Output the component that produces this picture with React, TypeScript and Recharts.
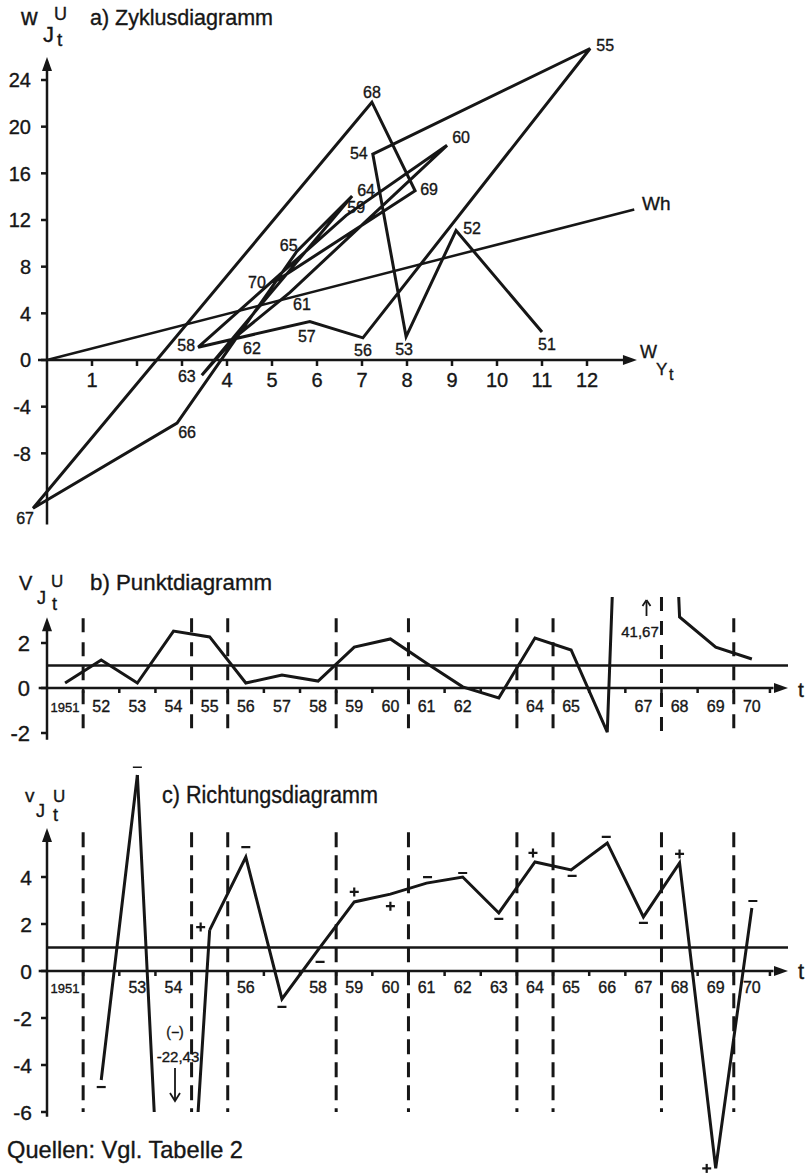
import React from 'react';
import { ComposedChart, Line, XAxis, YAxis, ReferenceLine, ReferenceDot } from 'recharts';

const FONT = "'Liberation Sans', 'DejaVu Sans', Arial, sans-serif";
const INK = '#161616';

// ---------- a) Zyklusdiagramm ----------
const A_YEARS = ['51', '52', '53', '54', '55', '56', '57', '58', '59', '60', '61', '62', '63', '64', '65', '66', '67', '68', '69', '70'];
const A_X = [11.0, 9.09, 7.98, 7.24, 12.07, 7.02, 5.84, 3.36, 6.65, 8.89, 5.4, 4.2, 3.44, 6.78, 5.55, 2.89, -0.31, 7.22, 8.18, 5.02];
const A_Y = [2.4, 11.1, 2.0, 17.65, 26.7, 1.9, 3.3, 1.1, 12.4, 18.4, 5.8, 2.0, -1.3, 14.05, 9.3, -5.4, -12.7, 22.1, 14.5, 6.6];
const WH_X = [0, 13.05];
const WH_Y = [0, 12.9];
const A_X_TICKS = [1, 2, 3, 4, 5, 6, 7, 8, 9, 10, 11, 12];
const A_X_TICK_LABELS = ['1', '', '', '4', '5', '6', '7', '8', '9', '10', '11', '12'];
const A_Y_TICKS = [24, 20, 16, 12, 8, 4, 0, -4, -8];

// ---------- b) / c) ----------
const YEARS = [1951, 1952, 1953, 1954, 1955, 1956, 1957, 1958, 1959, 1960, 1961, 1962, 1963, 1964, 1965, 1966, 1967, 1968, 1969, 1970];
const B_VALUES = [0.22, 1.24, 0.22, 2.53, 2.27, 0.22, 0.58, 0.31, 1.82, 2.18, 1.1, 0.05, -0.44, 2.22, 1.69, -1.96, 41.67, 3.16, 1.82, 1.29];
const B_X_LABELS = ['1951', '52', '53', '54', '55', '56', '57', '58', '59', '60', '61', '62', '', '64', '65', '', '67', '68', '69', '70'];
const B_Y_TICKS = [2, 0, -2];

const C_VALUES: (number | null)[] = [null, -4.64, 8.34, -22.43, 1.74, 4.85, -1.19, 0.9, 2.94, 3.27, 3.74, 4.0, 2.47, 4.64, 4.3, 5.45, 2.3, 4.6, -8.4, 2.68];
const C_SIGNS = ['', '−', '−', '', '+', '−', '−', '−', '+', '+', '−', '−', '−', '+', '−', '−', '−', '+', '+', '−'];
const C_X_LABELS = ['1951', '', '53', '54', '', '56', '', '58', '59', '60', '61', '62', '63', '64', '65', '66', '67', '68', '69', '70'];
const C_Y_TICKS = [4, 2, 0, -2, -4, -6];
const C_SCALE_FLOOR = -6;

const PHASE_BOUNDARIES = [1951.5, 1954.5, 1955.5, 1958.5, 1960.5, 1963.5, 1964.5, 1967.5, 1969.5];
const NORM_LEVEL = 1;

// ---------- styling maps (pixel offsets of labels) ----------
const A_LABEL_OFFSET: Record<string, [number, number]> = {
  '51': [5, 12], '52': [16, -3], '53': [-2, 12], '54': [-14, -1], '55': [15, -4],
  '56': [0, 12], '57': [-3, 14], '58': [-12, -2], '59': [10, -8], '60': [14, -8],
  '61': [12, 12], '62': [16, 11], '63': [-15, 1], '64': [14, -6], '65': [-8, -7],
  '66': [10, 9], '67': [-8, 10], '68': [0, -10], '69': [14, -2], '70': [-16, -1],
};
const C_SIGN_OFFSET: [number, number][] = [
  [0, 0], [0, 7], [0, -8], [0, 0], [-9, -3], [0, -10], [0, 8], [2, 12], [0, -10], [0, 12],
  [1, -6], [0, -4], [0, 6], [-2, -9], [1, 6], [-1, -6], [0, 6], [0, -9], [-9, 0], [1, -7],
];

// ---------- data tables ----------
const aData = A_YEARS.map((yr, i) => ({ yr, x: A_X[i], y: A_Y[i] }));
const whData = WH_X.map((x, i) => ({ x, y: WH_Y[i] }));
const bData = YEARS.map((year, i) => ({ year, v: B_VALUES[i] }));
const cMain = YEARS.map((year, i) => {
  const v = C_VALUES[i];
  return { year, v: v !== null && v < C_SCALE_FLOOR - 3 ? null : v };
});
const cCut = YEARS.map((year, i) => {
  const near = [i - 1, i, i + 1].some((j) => {
    const v = C_VALUES[j];
    return v !== null && v !== undefined && v < C_SCALE_FLOOR - 3;
  });
  return { year, v: near ? C_VALUES[i] : null };
});

// ---------- geometry helpers ----------
function vMargins(chartTop: number, chartH: number, zeroPx: number, ppu: number, lo: number, hi: number) {
  const top = zeroPx - hi * ppu - chartTop;
  const bottom = chartTop + chartH - (zeroPx - lo * ppu);
  return { top, bottom };
}

const txtProps = { fontFamily: FONT, fill: INK, stroke: INK, strokeWidth: 0.35 };

const arrowUp = (p: any) => (
  <path d={`M${p.cx},${p.cy} L${p.cx - 5},${p.cy + 14} L${p.cx + 5},${p.cy + 14} Z`} fill={INK} />
);
const arrowRight = (p: any) => (
  <path d={`M${p.cx},${p.cy} L${p.cx - 14},${p.cy - 5} L${p.cx - 14},${p.cy + 5} Z`} fill={INK} />
);
const yTick = (label: string, fs: number, gap: number) => (p: any) => (
  <g>
    <line x1={p.cx - 6} y1={p.cy} x2={p.cx} y2={p.cy} stroke={INK} strokeWidth={2.5} />
    <text x={p.cx - gap} y={p.cy + fs * 0.36} textAnchor="end" fontSize={fs} {...txtProps}>{label}</text>
  </g>
);
const xTick = (label: string, fs: number, down: number, markLen: number) => (p: any) => (
  <g>
    <line x1={p.cx} y1={p.cy} x2={p.cx} y2={p.cy + markLen} stroke={INK} strokeWidth={2.5} />
    {label ? (
      <text x={p.cx} y={p.cy + down} textAnchor="middle" fontSize={fs} {...txtProps}>{label}</text>
    ) : null}
  </g>
);
const minorTick = (p: any) => (
  <line x1={p.cx} y1={p.cy} x2={p.cx} y2={p.cy + 5} stroke={INK} strokeWidth={2.5} />
);
const xLabel = (label: string, fs: number, down: number) => (p: any) => (
  <text x={p.cx} y={p.cy + down} textAnchor="middle" fontSize={fs} {...txtProps}>{label}</text>
);

// ---------- panel a ----------
const A_TOP = 0, A_H = 560;
const A_M = vMargins(A_TOP, A_H, 360, 280 / 24, -14.5, 27.5);

function PanelA() {
  const labelDot = (p: any) => {
    const yr = p.payload?.yr;
    if (p.cx == null || p.cy == null || !yr) return <g key={`a-${p.index}`} />;
    const [dx, dy] = A_LABEL_OFFSET[yr] || [0, -10];
    return (
      <text key={`a-${p.index}`} x={p.cx + dx} y={p.cy + dy + 6} textAnchor="middle" fontSize={16} {...txtProps}>{yr}</text>
    );
  };
  return (
    <ComposedChart width={810} height={A_H} margin={{ top: A_M.top, bottom: A_M.bottom, left: 20, right: 160 }}>
      <XAxis type="number" dataKey="x" domain={[-0.6, 13.4]} hide />
      <YAxis type="number" dataKey="y" domain={[-14.5, 27.5]} hide />
      <ReferenceLine segment={[{ x: 0, y: -14.1 }, { x: 0, y: 25 }]} stroke={INK} strokeWidth={2.5} ifOverflow="visible" />
      <ReferenceLine segment={[{ x: -0.2, y: 0 }, { x: 12.9, y: 0 }]} stroke={INK} strokeWidth={2.5} ifOverflow="visible" />
      <ReferenceDot x={0} y={25.97} shape={arrowUp} ifOverflow="visible" />
      <ReferenceDot x={13.11} y={0} shape={arrowRight} ifOverflow="visible" />
      {A_Y_TICKS.map((t) => (
        <ReferenceDot key={`ay${t}`} x={0} y={t} shape={yTick(String(t), 20, 16)} ifOverflow="visible" />
      ))}
      {A_X_TICKS.map((t, i) => (
        <ReferenceDot key={`ax${t}`} x={t} y={0} shape={xTick(A_X_TICK_LABELS[i], 20, 27, 6)} ifOverflow="visible" />
      ))}
      <Line data={whData} dataKey="y" type="linear" stroke={INK} strokeWidth={2.5} dot={false} activeDot={false} isAnimationActive={false} />
      <Line data={aData} dataKey="y" type="linear" stroke={INK} strokeWidth={3} dot={labelDot} activeDot={false} isAnimationActive={false} />
    </ComposedChart>
  );
}

// ---------- panel b ----------
const B_TOP = 560, B_H = 200;
const B_LO = -2.6, B_HI = 4.05;
const B_M = vMargins(B_TOP, B_H, 688, 22.5, B_LO, B_HI);

function PanelB() {
  const offYears = YEARS.filter((_, i) => B_VALUES[i] > B_HI);
  return (
    <ComposedChart width={810} height={B_H} data={bData} margin={{ top: B_M.top, bottom: B_M.bottom, left: 47, right: 22 }}>
      <XAxis type="number" dataKey="year" domain={[1950.5, 1971]} hide allowDataOverflow />
      <YAxis type="number" domain={[B_LO, B_HI]} hide allowDataOverflow />
      {PHASE_BOUNDARIES.map((b) => {
        const top = offYears.some((y) => Math.abs(y - b) <= 0.5) ? B_HI : 3.1;
        return (
          <ReferenceLine key={`bd${b}`} segment={[{ x: b, y: top }, { x: b, y: -2.1 }]} stroke={INK} strokeWidth={3} strokeDasharray="14 10" ifOverflow="visible" />
        );
      })}
      <ReferenceLine y={NORM_LEVEL} stroke={INK} strokeWidth={2.5} ifOverflow="visible" />
      <ReferenceLine segment={[{ x: 1950.5, y: -2.3 }, { x: 1950.5, y: 2.6 }]} stroke={INK} strokeWidth={2.5} ifOverflow="visible" />
      <ReferenceLine segment={[{ x: 1950.27, y: 0 }, { x: 1970.6, y: 0 }]} stroke={INK} strokeWidth={2.5} ifOverflow="visible" />
      <ReferenceDot x={1950.5} y={3.15} shape={arrowUp} ifOverflow="visible" />
      <ReferenceDot x={1971.0} y={0} shape={arrowRight} ifOverflow="visible" />
      {B_Y_TICKS.map((t) => (
        <ReferenceDot key={`by${t}`} x={1950.5} y={t} shape={yTick(String(t), 22, 17)} ifOverflow="visible" />
      ))}
      {YEARS.map((yr) => (
        <ReferenceDot key={`bm${yr}`} x={yr + 0.5} y={0} shape={minorTick} ifOverflow="visible" />
      ))}
      {YEARS.map((yr, i) => (
        <ReferenceDot key={`bl${yr}`} x={yr} y={0} shape={xLabel(B_X_LABELS[i], i === 0 ? 13 : 16, 24)} ifOverflow="visible" />
      ))}
      <Line dataKey="v" type="linear" stroke={INK} strokeWidth={3} dot={false} activeDot={false} isAnimationActive={false} />
    </ComposedChart>
  );
}

// ---------- panel c ----------
const C_TOP = 760, C_H = 415;
const C_LO = -8.6, C_HI = 8.7;
const C_M = vMargins(C_TOP, C_H, 971, 23.5, C_LO, C_HI);
const C2_M = vMargins(C_TOP, C_H, 971, 23.5, C_SCALE_FLOOR, C_HI);

function PanelC() {
  const signDot = (p: any) => {
    const s = C_SIGNS[p.index];
    if (p.cx == null || p.cy == null || !s) return <g key={`c-${p.index}`} />;
    const [dx, dy] = C_SIGN_OFFSET[p.index];
    const x = p.cx + dx, y = p.cy + dy;
    return (
      <g key={`c-${p.index}`}>
        <line x1={x - 4.5} y1={y} x2={x + 4.5} y2={y} stroke={INK} strokeWidth={2.2} />
        {s === '+' ? <line x1={x} y1={y - 4.5} x2={x} y2={y + 4.5} stroke={INK} strokeWidth={2.2} /> : null}
      </g>
    );
  };
  return (
    <ComposedChart width={810} height={C_H} data={cMain} margin={{ top: C_M.top, bottom: C_M.bottom, left: 47, right: 22 }}>
      <XAxis type="number" dataKey="year" domain={[1950.5, 1971]} hide allowDataOverflow />
      <YAxis type="number" domain={[C_LO, C_HI]} hide allowDataOverflow />
      {PHASE_BOUNDARIES.map((b) => (
        <ReferenceLine key={`cd${b}`} segment={[{ x: b, y: 5.9 }, { x: b, y: C_SCALE_FLOOR }]} stroke={INK} strokeWidth={3} strokeDasharray="15 8" ifOverflow="visible" />
      ))}
      <ReferenceLine y={NORM_LEVEL} stroke={INK} strokeWidth={2.5} ifOverflow="visible" />
      <ReferenceLine segment={[{ x: 1950.5, y: -6.2 }, { x: 1950.5, y: 5.6 }]} stroke={INK} strokeWidth={2.5} ifOverflow="visible" />
      <ReferenceLine segment={[{ x: 1950.27, y: 0 }, { x: 1970.6, y: 0 }]} stroke={INK} strokeWidth={2.5} ifOverflow="visible" />
      <ReferenceDot x={1950.5} y={6.09} shape={arrowUp} ifOverflow="visible" />
      <ReferenceDot x={1971.0} y={0} shape={arrowRight} ifOverflow="visible" />
      {C_Y_TICKS.map((t) => (
        <ReferenceDot key={`cy${t}`} x={1950.5} y={t} shape={yTick(String(t), 21, 15)} ifOverflow="visible" />
      ))}
      {YEARS.map((yr) => (
        <ReferenceDot key={`cm${yr}`} x={yr + 0.5} y={0} shape={minorTick} ifOverflow="visible" />
      ))}
      {YEARS.map((yr, i) => (
        <ReferenceDot key={`cl${yr}`} x={yr} y={0} shape={xLabel(C_X_LABELS[i], i === 0 ? 13 : 16, 22)} ifOverflow="visible" />
      ))}
      <Line dataKey="v" type="linear" stroke={INK} strokeWidth={3} dot={signDot} activeDot={false} isAnimationActive={false} />
    </ComposedChart>
  );
}

function PanelCCut() {
  return (
    <ComposedChart width={810} height={C_H} data={cCut} margin={{ top: C2_M.top, bottom: C2_M.bottom, left: 47, right: 22 }}>
      <XAxis type="number" dataKey="year" domain={[1950.5, 1971]} hide allowDataOverflow />
      <YAxis type="number" domain={[C_SCALE_FLOOR, C_HI]} hide allowDataOverflow />
      <Line dataKey="v" type="linear" stroke={INK} strokeWidth={3} dot={false} activeDot={false} isAnimationActive={false} />
    </ComposedChart>
  );
}

function Texts() {
  const t = txtProps;
  return (
    <svg width={810} height={1175} style={{ position: 'absolute', left: 0, top: 0, pointerEvents: 'none' }}>
      {/* panel a */}
      <text x={21} y={25} fontSize={23} {...t}>w</text>
      <text x={43} y={42} fontSize={22} {...t}>J</text>
      <text x={54} y={20} fontSize={18} {...t}>U</text>
      <text x={57} y={46} fontSize={19} {...t}>t</text>
      <text x={90} y={25} fontSize={22} textLength={183} lengthAdjust="spacingAndGlyphs" {...t}>a) Zyklusdiagramm</text>
      <text x={642} y={210} fontSize={19} {...t}>Wh</text>
      <text x={640} y={358} fontSize={18} {...t}>W</text>
      <text x={656} y={375} fontSize={17} {...t}>Y</text>
      <text x={669} y={380} fontSize={16} {...t}>t</text>

      {/* panel b */}
      <text x={19} y={590} fontSize={20} {...t}>V</text>
      <text x={37} y={604} fontSize={18} {...t}>J</text>
      <text x={51} y={587} fontSize={17} {...t}>U</text>
      <text x={52} y={610} fontSize={18} {...t}>t</text>
      <text x={90} y={590} fontSize={22} textLength={182} lengthAdjust="spacingAndGlyphs" {...t}>b) Punktdiagramm</text>
      <line x1={646.5} y1={602} x2={646.5} y2={616} stroke={INK} strokeWidth={1.8} />
      <path d="M646.5,600 L642.5,606 M646.5,600 L650.5,606" stroke={INK} strokeWidth={1.8} fill="none" />
      <text x={640} y={637} fontSize={15} textAnchor="middle" {...t}>41,67</text>
      <text x={798} y={697} fontSize={21} {...t}>t</text>

      {/* panel c */}
      <text x={25} y={802} fontSize={19} {...t}>v</text>
      <text x={36} y={817} fontSize={18} {...t}>J</text>
      <text x={53} y={802} fontSize={17} {...t}>U</text>
      <text x={53} y={821} fontSize={18} {...t}>t</text>
      <text x={162} y={803} fontSize={23} textLength={216} lengthAdjust="spacingAndGlyphs" {...t}>c) Richtungsdiagramm</text>
      <text x={175} y={1037} fontSize={14} textAnchor="middle" {...t}>(−)</text>
      <text x={178} y={1062} fontSize={15} textAnchor="middle" {...t}>-22,43</text>
      <line x1={175} y1={1068} x2={175} y2={1100} stroke={INK} strokeWidth={1.8} />
      <path d="M170,1093 L175,1101 L180,1093" stroke={INK} strokeWidth={1.8} fill="none" />
      <text x={798} y={979} fontSize={22} {...t}>t</text>

      <text x={7} y={1158} fontSize={24} textLength={236} lengthAdjust="spacingAndGlyphs" {...t}>Quellen: Vgl. Tabelle 2</text>
    </svg>
  );
}

export default function App() {
  return (
    <div style={{ position: 'absolute', left: 0, top: 0, width: 810, height: 1175, background: '#fff', overflow: 'hidden' }}>
      <div style={{ position: 'absolute', left: 0, top: A_TOP }}><PanelA /></div>
      <div style={{ position: 'absolute', left: 0, top: B_TOP }}><PanelB /></div>
      <div style={{ position: 'absolute', left: 0, top: C_TOP }}><PanelC /></div>
      <div style={{ position: 'absolute', left: 0, top: C_TOP, pointerEvents: 'none' }}><PanelCCut /></div>
      <Texts />
    </div>
  );
}
